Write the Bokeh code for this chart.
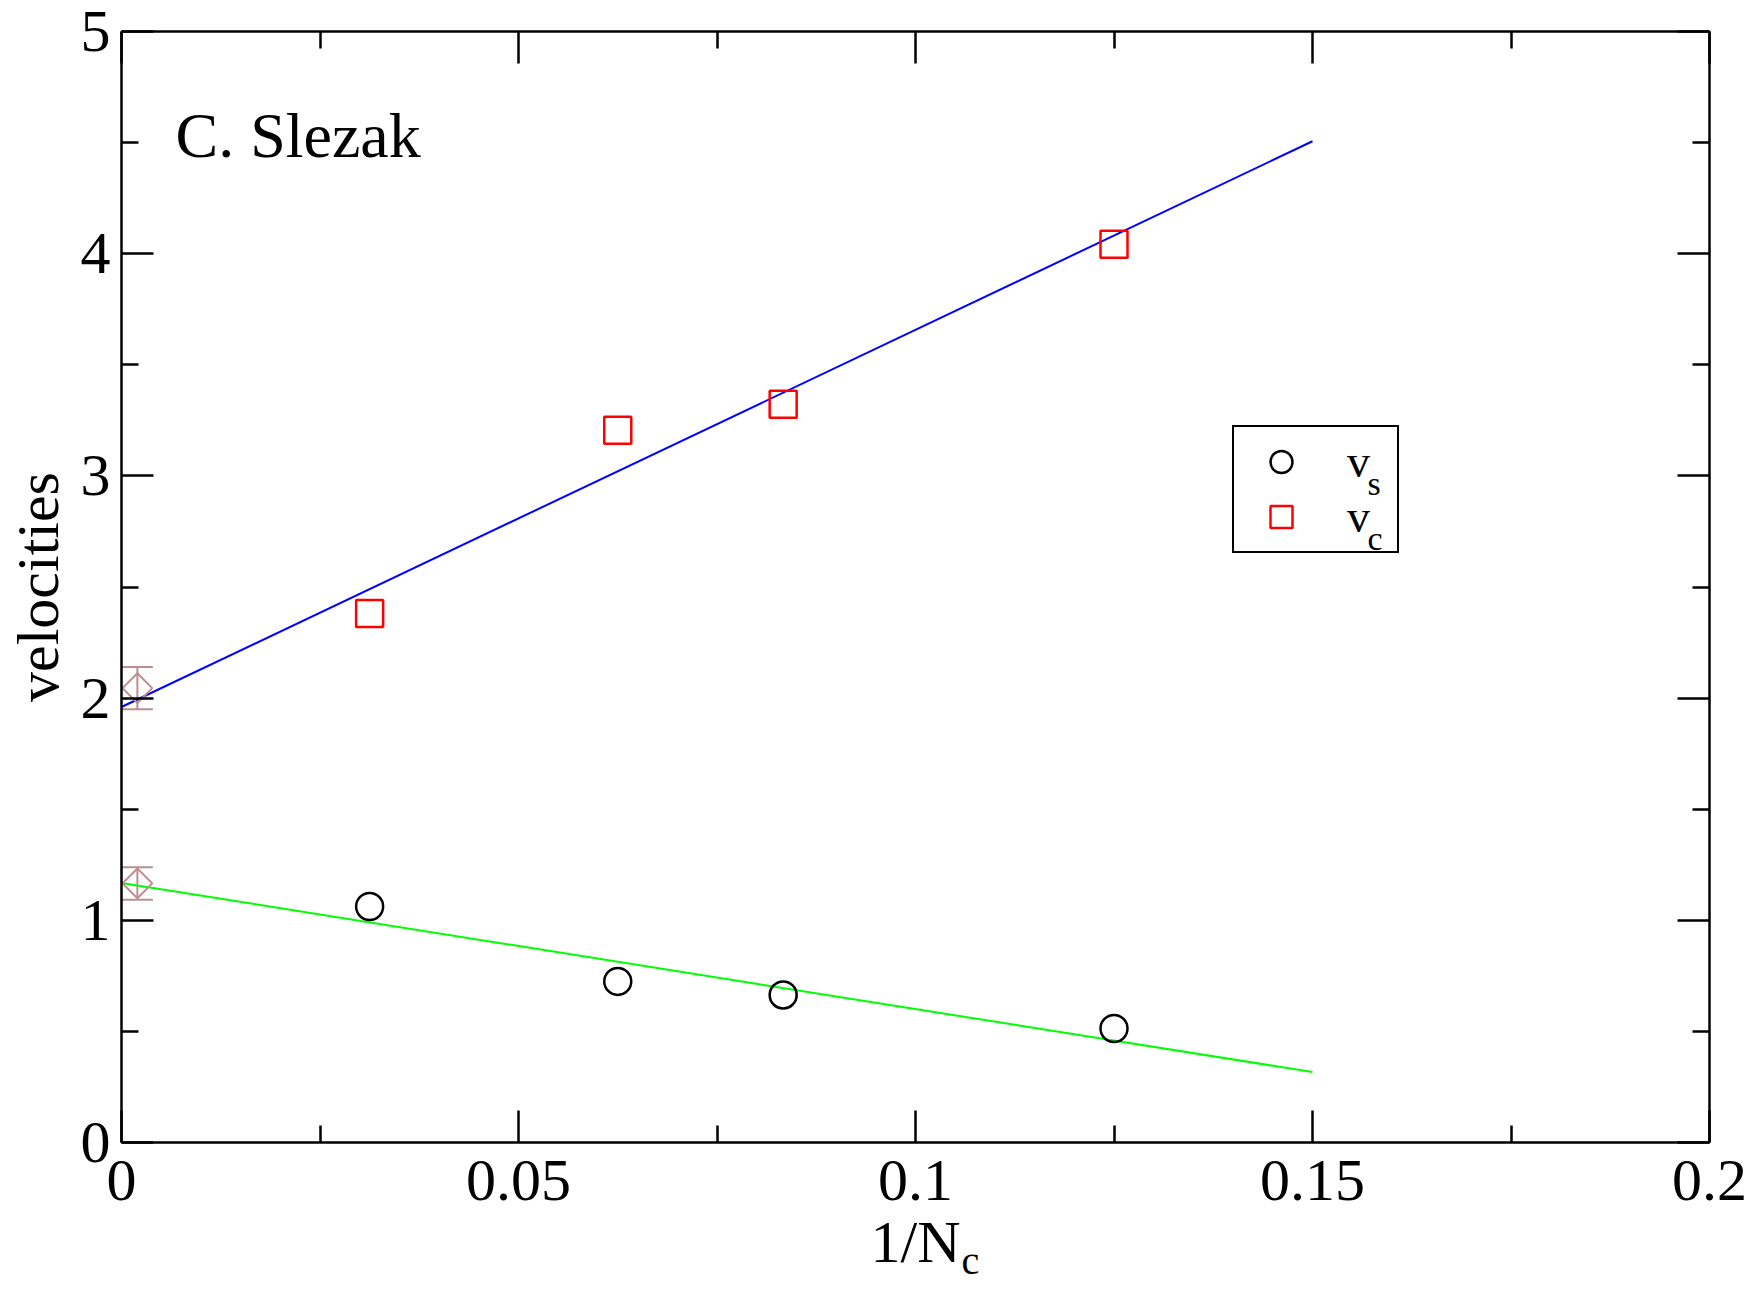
import math
from bokeh.plotting import figure
from bokeh.models import (Range1d, LinearAxis, FixedTicker, Legend, LegendItem,
                          Label, Title, Whisker, TeeHead, ColumnDataSource,
                          CustomLabelingPolicy)
from bokeh.embed import file_html
from bokeh.resources import INLINE

# ---------------- data ----------------
inv_nc = [1 / 32, 1 / 16, 1 / 12, 1 / 8]
v_s = [1.062, 0.725, 0.664, 0.513]
v_c = [2.381, 3.206, 3.322, 4.042]

fit_x = [0.0, 0.15]
fit_vs = [1.168, 0.317]
fit_vc = [1.960, 4.506]

extrap_x = [0.002, 0.002]
extrap_v = [2.045, 1.166]
extrap_err = [0.095, 0.073]

x_ticks = [0, 0.05, 0.1, 0.15, 0.2]
x_tick_labels = ["0", "0.05", "0.1", "0.15", "0.2"]
x_minor = [0.025, 0.075, 0.125, 0.175]
y_ticks = [0, 1, 2, 3, 4, 5]
y_tick_labels = ["0", "1", "2", "3", "4", "5"]
y_minor = [0.5, 1.5, 2.5, 3.5, 4.5]

FONT = "Liberation Serif"
ERR_COLOR = "#BC8F8F"

p = figure(frame_width=1588, frame_height=1111,
           x_range=Range1d(0, 0.2), y_range=Range1d(0, 5),
           output_backend="svg", toolbar_location=None,
           min_border_left=121, min_border_right=45,
           min_border_top=31, min_border_bottom=148,
           x_axis_location=None, y_axis_location=None,
           background_fill_color="white", border_fill_color="white",
           outline_line_color=None)
p.grid.visible = False


def style_axis(ax, ticks, minor, labels=None):
    ax.ticker = FixedTicker(ticks=ticks, minor_ticks=minor)
    ax.axis_line_color = "black"
    ax.axis_line_width = 2.5
    ax.major_tick_in = 32
    ax.major_tick_out = 0
    ax.minor_tick_in = 17
    ax.minor_tick_out = 0
    ax.major_tick_line_width = 2.5
    ax.minor_tick_line_width = 2.5
    ax.major_tick_line_color = "black"
    ax.minor_tick_line_color = "black"
    if labels is None:
        # mirrored axis: ticks only, no labels drawn
        ax.major_label_text_font_size = "1px"
        ax.major_label_standoff = 0
        ax.major_label_policy = CustomLabelingPolicy(code="return new Set()")
    else:
        ax.major_label_overrides = dict(zip(ticks, labels))
        ax.major_label_text_font = FONT
        ax.major_label_text_font_size = "60px"
        ax.major_label_text_color = "black"
    ax.axis_label_text_font = FONT
    ax.axis_label_text_font_style = "normal"
    ax.axis_label_text_color = "black"


xb = LinearAxis(axis_label="1/N")
style_axis(xb, x_ticks, x_minor, x_tick_labels)
xb.major_label_standoff = 18
xb.axis_label_standoff = 6
xb.axis_label_text_font_size = "60px"
p.add_layout(xb, "below")

# subscript of the x axis label, placed in a panel right below the axis
xsub = Title(text="c", align="left", offset=840, standoff=-80,
             text_font=FONT, text_font_size="40px", text_font_style="normal",
             text_color="black", vertical_align="top")
p.add_layout(xsub, "below")

yl = LinearAxis(axis_label="velocities")
style_axis(yl, y_ticks, y_minor, y_tick_labels)
yl.major_label_standoff = 11
yl.axis_label_standoff = 7
yl.axis_label_text_font_size = "60px"
p.add_layout(yl, "left")

xt = LinearAxis()
style_axis(xt, x_ticks, x_minor)
p.add_layout(xt, "above")

yr = LinearAxis()
style_axis(yr, y_ticks, y_minor)
p.add_layout(yr, "right")

# fit lines
p.line(fit_x, fit_vc, line_color="#0000FF", line_width=2)
p.line(fit_x, fit_vs, line_color="#00FF00", line_width=2)

# extrapolated values with error bars
err_src = ColumnDataSource(dict(
    x=extrap_x, v=extrap_v,
    upper=[v + e for v, e in zip(extrap_v, extrap_err)],
    lower=[v - e for v, e in zip(extrap_v, extrap_err)]))
p.add_layout(Whisker(source=err_src, base="x", upper="upper", lower="lower",
                     dimension="height", line_color=ERR_COLOR, line_width=2,
                     upper_head=TeeHead(size=31, line_color=ERR_COLOR, line_width=2),
                     lower_head=TeeHead(size=31, line_color=ERR_COLOR, line_width=2)))
p.scatter("x", "v", source=err_src, marker="square", angle=math.pi / 4, size=21,
          fill_color=None, line_color=ERR_COLOR, line_width=2)

# data points
r_s = p.scatter(inv_nc, v_s, marker="circle", size=27, fill_color=None,
                line_color="black", line_width=2.5)
r_c = p.scatter(inv_nc, v_c, marker="square", size=27, fill_color=None,
                line_color="#FF0000", line_width=2.5)

legend = Legend(items=[LegendItem(label="v", renderers=[r_s]),
                       LegendItem(label="v", renderers=[r_c])],
                location=(1111, 589), margin=0, padding=7,
                glyph_width=80, glyph_height=55, spacing=0,
                label_standoff=26, label_width=43,
                label_text_font=FONT, label_text_font_size="46px",
                label_text_color="black",
                border_line_color="black", border_line_width=2.5,
                border_line_alpha=1.0,
                background_fill_alpha=0.0)
p.add_layout(legend, "center")

# legend subscripts
sub_s = Label(x=0.15693, y=2.968, text="s",
              text_font=FONT, text_font_size="34px", text_baseline="middle",
              text_color="black")
sub_c = Label(x=0.15693, y=2.7205, text="c",
              text_font=FONT, text_font_size="34px", text_baseline="middle",
              text_color="black")
p.add_layout(sub_s)
p.add_layout(sub_c)

title = Label(x=0.0068, y=4.530, text="C. Slezak", text_font=FONT,
              text_font_size="64px", text_baseline="middle", text_color="black")
p.add_layout(title)

open("out.html", "w").write(file_html(p, INLINE))
